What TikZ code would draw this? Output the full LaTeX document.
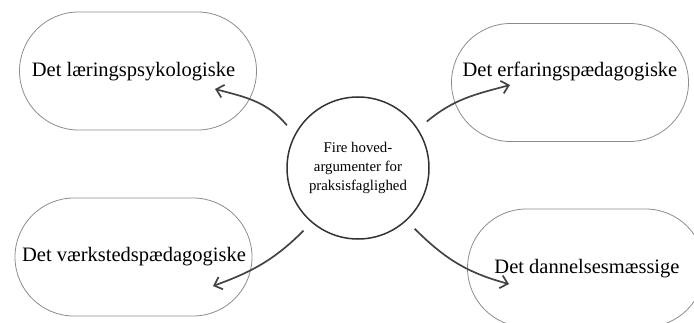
\documentclass[tikz,border=0pt]{standalone}
\usepackage{fontspec}
\setmainfont{Liberation Serif}
\usetikzlibrary{shapes.misc,arrows.meta}
\definecolor{rimgray}{HTML}{8C8C8C}
\definecolor{hubgray}{HTML}{333333}
\definecolor{arrowgray}{HTML}{444444}
\begin{document}
\begin{tikzpicture}[x=1pt,y=1pt,
  pill/.style={rounded rectangle, draw=rimgray, line width=0.8pt, minimum width=237pt, minimum height=118pt, inner sep=0pt},
  pilltext/.style={anchor=base, inner sep=0pt, font=\fontsize{20.5}{24}\selectfont},
  hub/.style={circle, draw=hubgray, line width=1.5pt, minimum size=142pt, inner sep=0pt, outer sep=12pt, align=center, font=\fontsize{14.8}{19}\selectfont},
  arg/.style={draw=arrowgray, line width=1.7pt, -{Straight Barb[length=7pt,width=13pt]}}]
\clip (0,0) rectangle (694,322);
\node[hub] (hub) at (358,154) {Fire hoved-\\argumenter for\\praksisfaglighed};
%%
\node[pill] (laering) at (138,251) {};
\node[pilltext] (laeringtxt) at (133.5,245) {Det læringspsykologiske};
\coordinate (laeringend) at (215,233);
\draw[arg] (hub.149.5) to[out=130,in=-15] (laeringend);
%%
\node[pill] (erfaring) at (570,239.5) {};
\node[pilltext] (erfaringtxt) at (570,245) {Det erfaringspædagogiske};
\coordinate (erfaringend) at (510,237);
\draw[arg] (hub.34) to[out=40,in=195] (erfaringend);
%%
\node[pill] (vaerksted) at (133.5,65) {};
\node[pilltext] (vaerkstedtxt) at (134,61) {Det værkstedspædagogiske};
\coordinate (vaerkstedend) at (213,36);
\draw[arg] (hub.229) to[out=225,in=20] (vaerkstedend);
%%
\node[pill] (dannelse) at (586,54) {};
\node[pilltext] (dannelsetxt) at (587,49) {Det dannelsesmæssige};
\coordinate (dannelseend) at (509,38);
\draw[arg] (hub.313) to[out=-45,in=165] (dannelseend);
\end{tikzpicture}
\end{document}
